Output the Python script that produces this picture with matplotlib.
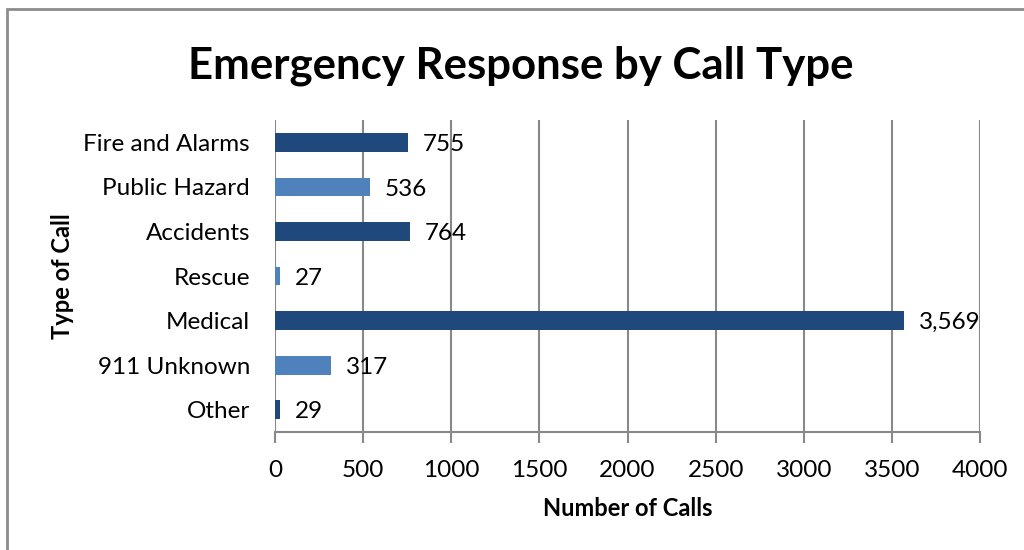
import matplotlib.pyplot as plt
from matplotlib.patches import Rectangle

call_types = ['Fire and Alarms', 'Public Hazard', 'Accidents', 'Rescue',
              'Medical', '911 Unknown', 'Other']
calls = [755, 536, 764, 27, 3569, 317, 29]

dark = '#1F497D'
light = '#4F81BD'
colors = [dark if i % 2 == 0 else light for i in range(len(calls))]

plt.rcParams['font.family'] = ['Lato', 'DejaVu Sans']

fig = plt.figure(figsize=(10.24, 5.5), dpi=100)
ax = fig.add_axes([0.2686, 0.2145, 0.6885, 0.5673])

# outer chart frame
fig.patches.append(Rectangle((0.007, -0.05), 1.2, 0.05 + 0.9836, transform=fig.transFigure,
                             fill=False, edgecolor='#8c8c8c', linewidth=2))

pos = list(range(len(calls)))[::-1]
ax.barh(pos, calls, height=0.42, color=colors, zorder=3)

for y, v in zip(pos, calls):
    ax.text(v + 85, y - 0.05, f'{v:,}', va='center', ha='left', fontsize=17.5, zorder=4)

ax.set_xlim(0, 4000)
ax.set_ylim(-0.5, len(calls) - 0.5)
ax.set_xticks(range(0, 4001, 500))
ax.set_yticks(pos)
ax.set_yticklabels(call_types)
ax.tick_params(axis='x', labelsize=17.5, length=8, width=1.5, color='#888888', pad=12)
ax.tick_params(axis='y', labelsize=17.5, length=0, pad=18)

ax.grid(axis='x', color='#888888', linewidth=1.5, zorder=0)
for s in ['top', 'right', 'left']:
    ax.spines[s].set_visible(False)
ax.spines['bottom'].set_color('#888888')
ax.spines['bottom'].set_linewidth(1.5)

ax.set_xlabel('Number of Calls', fontsize=17, fontweight='bold', labelpad=12)
ax.set_ylabel('Type of Call', fontsize=17, fontweight='bold', labelpad=7)
fig.suptitle('Emergency Response by Call Type', fontsize=31.5, fontweight='bold',
             x=0.509, y=0.918)

fig.savefig('out.png', dpi=100, facecolor='white')
